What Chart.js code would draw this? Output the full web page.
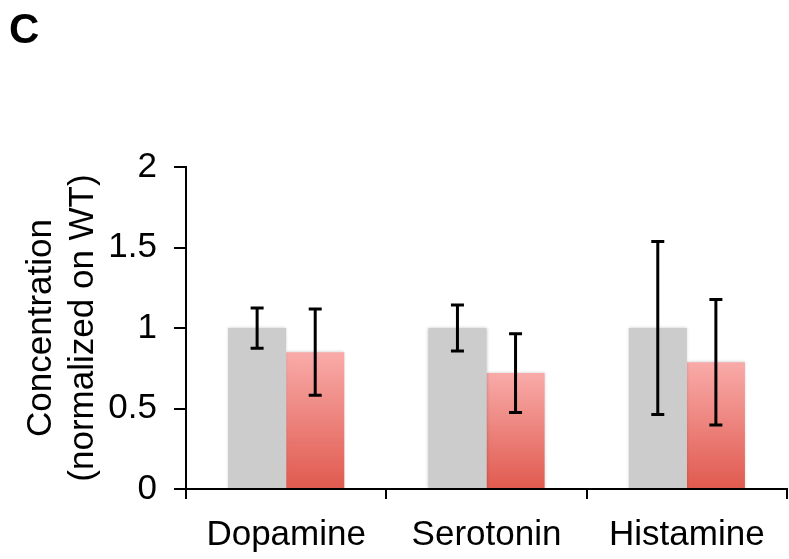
<!DOCTYPE html>
<html>
<head>
<meta charset="utf-8">
<script src="https://cdn.jsdelivr.net/npm/chart.js@4.4.0/dist/chart.umd.min.js"></script>
<style>
  html, body { margin: 0; padding: 0; background: #fff; }
  #wrap { width: 789px; height: 559px; position: relative; }
</style>
</head>
<body>
<div id="wrap"><canvas id="chart"></canvas></div>
<script>
// --- Dados ---
const categories = ['Dopamine', 'Serotonin', 'Histamine'];
const wtValues = [1, 1, 1];
const wtErrors = [0.125, 0.143, 0.537];
const mutValues = [0.85, 0.72, 0.787];
const mutErrors = [0.268, 0.245, 0.39];
const yTicks = [0, 0.5, 1, 1.5, 2];

const FONT = '"Liberation Sans", Arial, Helvetica, sans-serif';

// gradiente vermelho por barra (claro no topo, escuro na base)
function redGradient(context) {
    const chart = context.chart;
    if (!chart.chartArea || context.parsed === undefined) return '#ee8078';
    const yScale = chart.scales.y;
    const top = yScale.getPixelForValue(context.parsed.y);
    const bottom = yScale.getPixelForValue(0);
    const g = chart.ctx.createLinearGradient(0, top, 0, bottom);
    g.addColorStop(0, '#f9aba9');
    g.addColorStop(1, '#e05a4f');
    return g;
}

// barras de erro desenhadas a partir das escalas
const errorBars = {
    id: 'errorBars',
    afterDatasetsDraw(chart) {
        const ctx = chart.ctx;
        const yScale = chart.scales.y;
        chart.data.datasets.forEach((ds, i) => {
            const meta = chart.getDatasetMeta(i);
            meta.data.forEach((bar, j) => {
                const v = ds.data[j];
                const e = ds.errors[j];
                const yTop = yScale.getPixelForValue(v + e);
                const yBot = yScale.getPixelForValue(v - e);
                ctx.save();
                ctx.strokeStyle = '#000';
                ctx.lineWidth = 3;
                ctx.beginPath();
                ctx.moveTo(bar.x, yTop);
                ctx.lineTo(bar.x, yBot);
                ctx.moveTo(bar.x - 6.5, yTop);
                ctx.lineTo(bar.x + 6.5, yTop);
                ctx.moveTo(bar.x - 6.5, yBot);
                ctx.lineTo(bar.x + 6.5, yBot);
                ctx.stroke();
                ctx.restore();
            });
        });
    }
};

// sombra leve nas barras
const barShadow = {
    id: 'barShadow',
    beforeDatasetsDraw(chart) {
        const ctx = chart.ctx;
        ctx.save();
        ctx.shadowColor = 'rgba(0,0,0,0.22)';
        ctx.shadowBlur = 3;
    },
    afterDatasetsDraw(chart) {
        chart.ctx.restore();
    }
};

// letra do painel
const panelLabel = {
    id: 'panelLabel',
    afterDraw(chart) {
        const ctx = chart.ctx;
        ctx.save();
        ctx.fillStyle = '#000';
        ctx.font = 'bold 42px ' + FONT;
        ctx.textAlign = 'left';
        ctx.textBaseline = 'alphabetic';
        ctx.fillText('C', 9, 43);
        ctx.restore();
    }
};

const chart = new Chart(document.getElementById('chart'), {
    type: 'bar',
    data: {
        labels: categories,
        datasets: [
            {
                label: 'WT',
                data: wtValues,
                errors: wtErrors,
                backgroundColor: '#cccccc',
                borderWidth: 0,
                categoryPercentage: 0.58,
                barPercentage: 1.0
            },
            {
                label: 'Mutant',
                data: mutValues,
                errors: mutErrors,
                backgroundColor: redGradient,
                borderWidth: 0,
                categoryPercentage: 0.58,
                barPercentage: 1.0
            }
        ]
    },
    options: {
        responsive: true,
        maintainAspectRatio: false,
        animation: false,
        devicePixelRatio: 1,
        layout: { padding: { top: 167, right: 2, left: 0, bottom: 0 } },
        plugins: {
            legend: { display: false },
            tooltip: { enabled: false }
        },
        scales: {
            x: {
                grid: { drawOnChartArea: false, drawTicks: true, tickLength: 10, color: '#000', lineWidth: 2, offset: true },
                border: { display: true, color: '#000', width: 2 },
                ticks: { color: '#000', font: { family: FONT, size: 35 }, padding: 15, maxRotation: 0 },
                afterFit: scale => { scale.height = 70; }
            },
            y: {
                min: 0,
                max: 2,
                afterBuildTicks: scale => { scale.ticks = yTicks.map(v => ({ value: v })); },
                grid: { drawOnChartArea: false, drawTicks: true, tickLength: 12, color: '#000', lineWidth: 2 },
                border: { display: true, color: '#000', width: 2 },
                ticks: { color: '#000', font: { family: FONT, size: 35 }, padding: 17, callback: v => String(v) },
                title: {
                    display: true,
                    text: ['Concentration', '(normalized on WT)'],
                    color: '#000',
                    font: { family: FONT, size: 35, lineHeight: 1.2 },
                    padding: { top: 20, bottom: 0 }
                },
                afterFit: scale => { scale.width = 186; }
            }
        }
    },
    plugins: [barShadow, errorBars, panelLabel]
});
</script>
</body>
</html>
